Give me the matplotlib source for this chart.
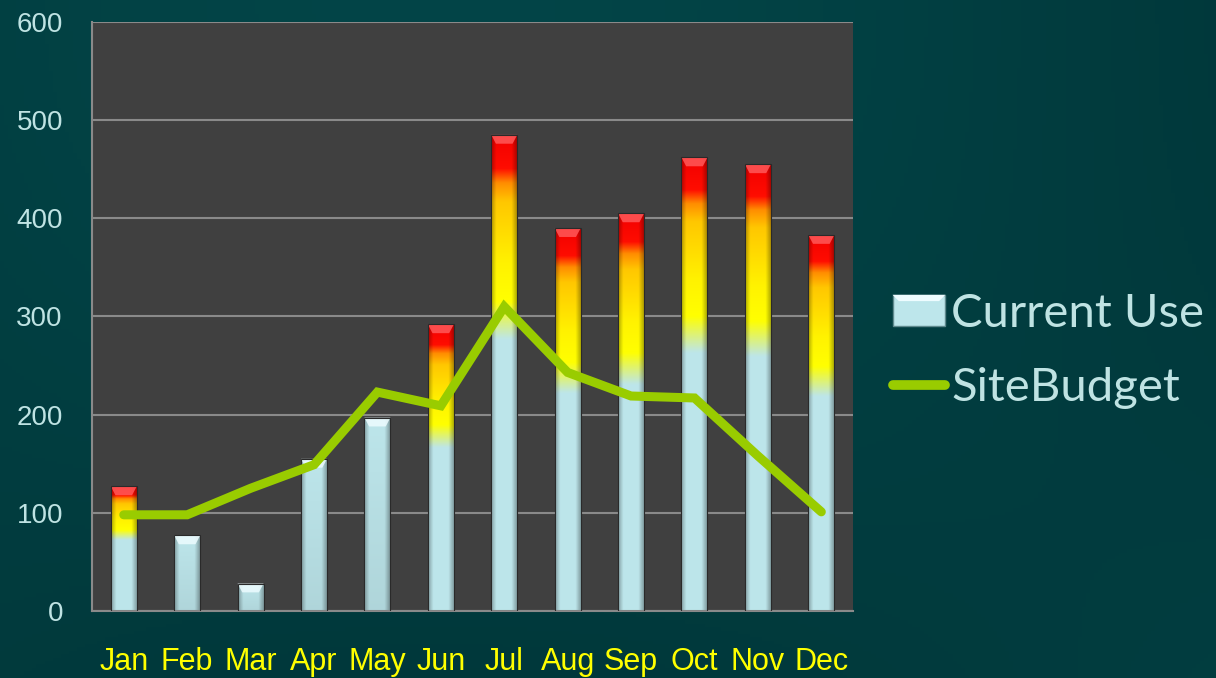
import numpy as np
import matplotlib
matplotlib.use("Agg")
import matplotlib.pyplot as plt
from matplotlib.patches import Polygon, Rectangle
from matplotlib.lines import Line2D
from matplotlib.legend_handler import HandlerPatch

# ── data ─────────────────────────────────────────────────────────────
MONTHS      = ["Jan", "Feb", "Mar", "Apr", "May", "Jun",
               "Jul", "Aug", "Sep", "Oct", "Nov", "Dec"]
CURRENT_USE = [127, 77, 28, 155, 197, 292, 485, 390, 405, 462, 455, 383]
SITE_BUDGET = [98, 98, 125, 149, 223, 209, 310, 243, 219, 217, 158, 101]
Y_TICKS     = [0, 100, 200, 300, 400, 500, 600]

# ── colours ──────────────────────────────────────────────────────────
BG        = "#023b3f"
PLOT_BG   = "#404040"
GRID      = "#8a8a8a"
CYAN      = np.array([0.74, 0.90, 0.92])
LINE_COL  = "#99cc00"
TICK_COL  = "#bfe3e3"
MONTH_COL = "#ffff00"
OVER_TOL  = 1.10   # bars only "heat up" when clearly over budget

HOT_STOPS = [(0.00, CYAN), (0.57, CYAN), (0.65, (1.0, 1.0, 0.0)),
             (0.73, (1.0, 0.95, 0.0)), (0.86, (1.0, 0.78, 0.0)),
             (0.90, (1.0, 0.55, 0.0)), (0.93, (1.0, 0.05, 0.0)),
             (1.00, (0.95, 0.0, 0.0))]


def vertical_colours(n, hot):
    t = np.linspace(0, 1, n)
    if not hot:
        base = np.tile(CYAN, (n, 1))
        base *= (0.93 + 0.07 * t)[:, None]
        return base
    pos = [s[0] for s in HOT_STOPS]
    cols = np.array([s[1] for s in HOT_STOPS])
    return np.stack([np.interp(t, pos, cols[:, c]) for c in range(3)], axis=1)


def bar_image(hot, n=200, m=40):
    v = vertical_colours(n, hot)                      # bottom -> top
    x = np.linspace(0, 1, m)
    d = np.minimum(x, 1 - x)
    shade = 0.70 + 0.30 * np.clip(d / 0.2, 0, 1)
    img = v[:, None, :] * shade[None, :, None]
    return np.clip(img[::-1], 0, 1)                    # origin upper


# ── figure ───────────────────────────────────────────────────────────
fig = plt.figure(figsize=(12.16, 6.78), dpi=100)
fig.patch.set_facecolor(BG)

# subtle background gradient
bg_ax = fig.add_axes([0, 0, 1, 1], zorder=-10)
gx, gy = np.meshgrid(np.linspace(0, 1, 300), np.linspace(0, 1, 200))
g = 0.5 + 0.5 * np.sin(gx * 3.0 + 0.5) * np.cos(gy * 2.0)
bg = np.array([0.0, 0.20, 0.21])[None, None, :] + g[..., None] * np.array([0.01, 0.07, 0.07])
bg_ax.imshow(bg, aspect="auto", extent=[0, 1, 0, 1])
bg_ax.axis("off")

ax = fig.add_axes([0.0757, 0.0988, 0.7015 - 0.0757, 0.9676 - 0.0988])
ax.set_facecolor(PLOT_BG)

x = np.arange(len(MONTHS))
bars = ax.bar(x, CURRENT_USE, width=0.41, facecolor="none",
              edgecolor="#2a2a2a", linewidth=0.8, zorder=3)

for rect, val, bud in zip(bars, CURRENT_USE, SITE_BUDGET):
    hot = val > bud * OVER_TOL
    x0, w = rect.get_x(), rect.get_width()
    im = ax.imshow(bar_image(hot), extent=[x0, x0 + w, 0, val],
                   aspect="auto", zorder=2, interpolation="bilinear")
    im.set_clip_path(rect)
    # bevel cap on top
    cap_h = 9
    top_col = (1.0, 0.35, 0.35) if hot else (0.93, 0.99, 1.0)
    cap = Polygon([(x0, val), (x0 + w, val), (x0 + w * 0.82, val - cap_h),
                   (x0 + w * 0.18, val - cap_h)], closed=True,
                  facecolor=top_col, edgecolor="none", alpha=0.85, zorder=2.5)
    ax.add_patch(cap)

ax.plot(x, SITE_BUDGET, color=LINE_COL, linewidth=6.5,
        solid_capstyle="round", solid_joinstyle="miter", zorder=4)

ax.set_xlim(-0.5, len(MONTHS) - 0.5)
ax.set_ylim(0, 600)
ax.set_yticks(Y_TICKS)
ax.set_xticks(x)
ax.set_xticklabels(MONTHS)
ax.grid(axis="y", color=GRID, linewidth=1.5, zorder=1)
ax.set_axisbelow(True)
ax.tick_params(axis="both", length=0)
ax.tick_params(axis="y", labelsize=20, labelcolor=TICK_COL, pad=21)
ax.tick_params(axis="x", labelsize=22, labelcolor=MONTH_COL, pad=26)
for lab in ax.get_yticklabels():
    lab.set_fontfamily("Liberation Sans")
for lab in ax.get_xticklabels():
    lab.set_fontfamily("Liberation Sans")
for side in ["top", "right"]:
    ax.spines[side].set_visible(False)
for side in ["left", "bottom"]:
    ax.spines[side].set_color(GRID)
    ax.spines[side].set_linewidth(1.5)


# ── legend ───────────────────────────────────────────────────────────
class BevelHandler(HandlerPatch):
    def create_artists(self, legend, orig_handle, xdescent, ydescent,
                       width, height, fontsize, trans):
        r = Rectangle((-xdescent, -ydescent), width, height,
                      facecolor=CYAN, edgecolor="#5f8a8e", linewidth=1.0,
                      transform=trans)
        b = 0.2 * height
        top = Polygon([(-xdescent, -ydescent + height),
                       (-xdescent + width, -ydescent + height),
                       (-xdescent + width - b, -ydescent + height - b),
                       (-xdescent + b, -ydescent + height - b)],
                      facecolor="#eefcff", edgecolor="none", transform=trans)
        return [r, top]


bar_handle = Rectangle((0, 0), 1, 1)
line_handle = Line2D([], [], color=LINE_COL, linewidth=7, solid_capstyle="round")
leg = fig.legend([bar_handle, line_handle], ["Current Use", "SiteBudget"],
                 loc="center left", bbox_to_anchor=(0.734, 0.482),
                 frameon=False, borderpad=0, borderaxespad=0,
                 handlelength=1.12, handleheight=0.65,
                 handletextpad=0.12, labelspacing=0.68,
                 prop={"family": "Lato", "size": 34},
                 handler_map={Rectangle: BevelHandler()})
for t in leg.get_texts():
    t.set_color(TICK_COL)

fig.savefig("out.png", dpi=100, facecolor=fig.get_facecolor())
